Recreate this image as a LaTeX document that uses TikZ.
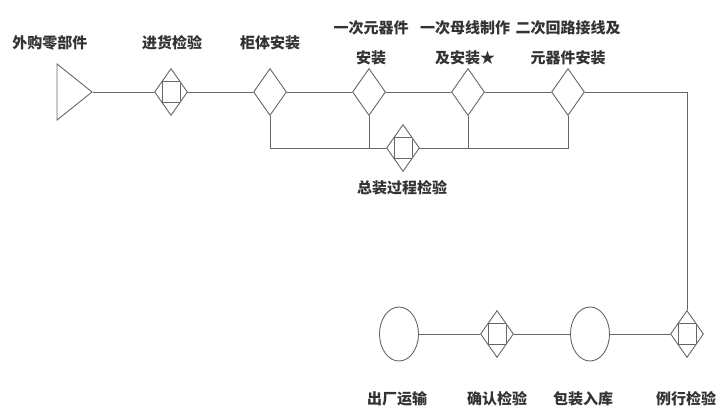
\documentclass[tikz,border=0pt]{standalone}
\usepackage{fontspec}
\newfontfamily\cjkfont{Noto Sans CJK SC}
\usetikzlibrary{shapes.geometric}

\tikzset{%
        every node/.style = {font = \cjkfont\bfseries\fontsize{15}{30}\selectfont, text = black!80},
        flowline/.style = {draw = black!60, line width = 0.9pt},
        operation/.style = {diamond, draw = black!60, line width = 0.9pt, inner sep = 0pt, minimum width = 33pt, minimum height = 47pt},
        inspection/.style = {operation, path picture = {\draw[black!60, line width = 0.9pt] (path picture bounding box.center) +(-9pt,-10.5pt) rectangle +(9pt,10.5pt);}},
        storage/.style = {ellipse, draw = black!60, line width = 0.9pt, inner sep = 0pt, minimum width = 39pt, minimum height = 54pt},
        purchase/.style = {isosceles triangle, isosceles triangle stretches, draw = black!60, line width = 0.9pt, inner sep = 0pt, minimum width = 56pt, minimum height = 35pt},
        caption/.style = {align = center, inner sep = 0pt}
    }

\begin{document}
\begin{tikzpicture}[x = 1pt, y = -1pt]
				\useasboundingbox (0,0) rectangle (718,410);
				% upper row
				\node[purchase]		(buy)		at (70.5,92)	{};
				\node[inspection]	(incoming)	at (171,92)		{};
				\node[operation]	(cabinet)	at (270,92)		{};
				\node[operation]	(primary)	at (369,92)		{};
				\node[operation]	(busbar)	at (468,92)		{};
				\node[operation]	(secondary)	at (568,92)		{};
				\node[inspection]	(assembly)	at (403,148)	{};
				% lower row
				\node[inspection]	(routine)	at (687,334)	{};
				\node[storage]		(packing)	at (590,334)	{};
				\node[inspection]	(confirm)	at (497,334)	{};
				\node[storage]		(shipping)	at (399,334)	{};

				\node[caption]	(lbuy)		at (50,43)		{外购零部件};
				\node[caption]	(lincoming)	at (172,43)		{进货检验};
				\node[caption]	(lcabinet)	at (270,43)		{柜体安装};
				\node[caption]	(lprimary)	at (371,43)		{一次元器件\\安装};
				\node[caption]	(lbusbar)	at (465,43)		{一次母线制作\\及安装★};
				\node[caption]	(lsecondary)	at (568,43)		{二次回路接线及\\元器件安装};
				\node[caption]	(lassembly)	at (402,188)	{总装过程检验};
				\node[caption]	(lshipping)	at (397,399)	{出厂运输};
				\node[caption]	(lconfirm)	at (497,399)	{确认检验};
				\node[caption]	(lpacking)	at (583,399)	{包装入库};
				\node[caption]	(lroutine)	at (686,399)	{例行检验};

				\draw[flowline] (buy.apex) -- (incoming) -- (cabinet) -- (primary) -- (busbar) -- (secondary);
				\draw[flowline] (secondary.east) -| (routine.north);
				\draw[flowline] (cabinet.south) |- (assembly.west);
				\draw[flowline] (assembly.east) -| (secondary.south);
				\draw[flowline] (primary.south) -- (primary.south |- assembly.west);
				\draw[flowline] (busbar.south) -- (busbar.south |- assembly.east);
				\draw[flowline] (routine) -- (packing) -- (confirm) -- (shipping);
			\end{tikzpicture}
\end{document}
